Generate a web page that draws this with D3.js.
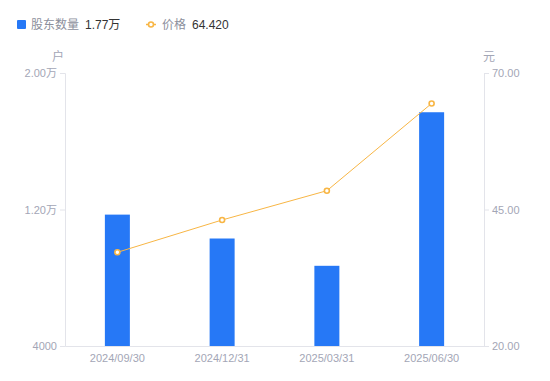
<!DOCTYPE html>
<html>
<head>
<meta charset="utf-8">
<script src="https://cdn.jsdelivr.net/npm/d3@7"></script>
<style>
  body { margin: 0; background: #fff; }
  text { font-family: "Liberation Sans", Arial, "Noto Sans CJK SC", sans-serif; }
</style>
</head>
<body>
<div id="chart"></div>
<script>
// data
const dates = ["2024/09/30", "2024/12/31", "2025/03/31", "2025/06/30"];
const holders = [11700, 10300, 8700, 17700];   // 户
const prices = [37.16, 43.08, 48.44, 64.42];    // 元
const leftTicks = [4000, 12000, 20000];
const rightTicks = [20, 45, 70];

const width = 550;
const height = 381;
const margin = { top: 73, right: 66, bottom: 35, left: 65 };

const barColour = "#2678f6";
const lineColour = "#f8b645";
const tickColour = "#a3a6b6";
const axisColour = "#e3e4ea";

const svg = d3.select("#chart")
    .append("svg")
    .attr("width", width)
    .attr("height", height);

const x = d3.scaleBand()
    .domain(dates)
    .range([margin.left, width - margin.right])
    .paddingInner(0)
    .paddingOuter(0);

const yLeft = d3.scaleLinear()
    .domain([4000, 20000])
    .range([height - margin.bottom, margin.top]);

const yRight = d3.scaleLinear()
    .domain([20, 70])
    .range([height - margin.bottom, margin.top]);

// 4000 / 1.20万 style labels
const fmtLeft = function (v) {
    if (v >= 10000) return (v / 10000).toFixed(2) + "万";
    return String(v);
};

// left axis
const leftAxis = svg.append("g")
    .attr("transform", `translate(${margin.left},0)`)
    .call(d3.axisLeft(yLeft).tickValues(leftTicks).tickFormat(fmtLeft).tickSize(5).tickPadding(3));

// right axis
const rightAxis = svg.append("g")
    .attr("transform", `translate(${width - margin.right},0)`)
    .call(d3.axisRight(yRight).tickValues(rightTicks).tickFormat(d3.format(".2f")).tickSize(5).tickPadding(3));

[leftAxis, rightAxis].forEach(function (g) {
    g.select(".domain").attr("stroke", axisColour);
    g.selectAll(".tick line").attr("stroke", axisColour);
    g.selectAll(".tick text")
        .attr("fill", tickColour)
        .style("font-size", "11px");
});

// bottom axis, no tick marks
const bottomAxis = svg.append("g")
    .attr("transform", `translate(0,${height - margin.bottom})`)
    .call(d3.axisBottom(x).tickSize(0).tickPadding(8));
bottomAxis.select(".domain").attr("stroke", axisColour);
bottomAxis.selectAll(".tick text")
    .attr("fill", tickColour)
    .style("font-size", "11px");

// unit labels
svg.append("text")
    .attr("x", margin.left - 7)
    .attr("y", 61)
    .attr("text-anchor", "middle")
    .attr("fill", tickColour)
    .style("font-size", "12px")
    .text("户");

svg.append("text")
    .attr("x", width - margin.right + 5)
    .attr("y", 61)
    .attr("text-anchor", "middle")
    .attr("fill", tickColour)
    .style("font-size", "12px")
    .text("元");

// bars
const barWidth = 25;
svg.selectAll(".bar")
    .data(holders)
    .enter()
    .append("rect")
    .attr("class", "bar")
    .attr("x", (d, i) => x(dates[i]) + x.bandwidth() / 2 - barWidth / 2)
    .attr("y", (d) => yLeft(d))
    .attr("width", barWidth)
    .attr("height", (d) => yLeft(4000) - yLeft(d))
    .attr("fill", barColour);

// price line
const line = d3.line()
    .x((d, i) => x(dates[i]) + x.bandwidth() / 2)
    .y((d) => yRight(d));

svg.append("path")
    .datum(prices)
    .attr("d", line)
    .attr("fill", "none")
    .attr("stroke", lineColour)
    .attr("stroke-width", 1);

svg.selectAll(".dot")
    .data(prices)
    .enter()
    .append("circle")
    .attr("class", "dot")
    .attr("cx", (d, i) => x(dates[i]) + x.bandwidth() / 2)
    .attr("cy", (d) => yRight(d))
    .attr("r", 2.5)
    .attr("fill", "#fff")
    .attr("stroke", lineColour)
    .attr("stroke-width", 1.6);

// legend - shows the latest values
const legend = svg.append("g");

legend.append("rect")
    .attr("x", 17)
    .attr("y", 20)
    .attr("width", 9)
    .attr("height", 9)
    .attr("rx", 1)
    .attr("fill", barColour);

legend.append("text")
    .attr("x", 31)
    .attr("y", 29)
    .attr("fill", "#8c8f9c")
    .style("font-size", "12px")
    .text("股东数量");

legend.append("text")
    .attr("x", 85)
    .attr("y", 29)
    .attr("fill", "#333")
    .style("font-size", "12px")
    .text(fmtLeft(holders[holders.length - 1]));

legend.append("line")
    .attr("x1", 146)
    .attr("x2", 156)
    .attr("y1", 24.5)
    .attr("y2", 24.5)
    .attr("stroke", lineColour)
    .attr("stroke-width", 1.5);

legend.append("circle")
    .attr("cx", 151)
    .attr("cy", 24.5)
    .attr("r", 2.5)
    .attr("fill", "#fff")
    .attr("stroke", lineColour)
    .attr("stroke-width", 1.6);

legend.append("text")
    .attr("x", 162)
    .attr("y", 29)
    .attr("fill", "#8c8f9c")
    .style("font-size", "12px")
    .text("价格");

legend.append("text")
    .attr("x", 192)
    .attr("y", 29)
    .attr("fill", "#333")
    .style("font-size", "12px")
    .text(prices[prices.length - 1].toFixed(3));
</script>
</body>
</html>
